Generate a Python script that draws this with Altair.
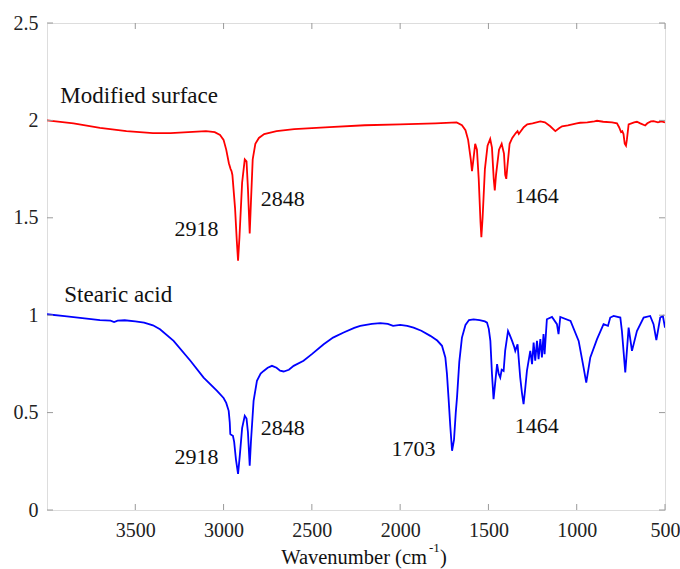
import altair as alt
import pandas as pd

# ---------------- data ----------------
red_wn = [4000, 3850, 3700, 3550, 3400, 3300, 3200, 3100, 3050, 3020, 3000, 2985, 2970, 2960,
          2955, 2950, 2935, 2925, 2918, 2910, 2895, 2880, 2870, 2862, 2852, 2845, 2835, 2820,
          2800, 2770, 2700, 2600, 2400, 2200, 2000, 1800, 1680, 1650, 1630, 1615, 1600, 1593,
          1585, 1575, 1565, 1555, 1545, 1540, 1533, 1520, 1505, 1490, 1480, 1470, 1464, 1457,
          1440, 1425, 1412, 1405, 1399, 1393, 1380, 1365, 1345, 1335, 1328, 1320, 1300, 1280,
          1250, 1206, 1180, 1150, 1121, 1100, 1083, 1050, 1000, 980, 940, 900, 885, 850, 800,
          772, 760, 749, 742, 735, 728, 721, 716, 706, 690, 675, 659, 640, 612, 600, 580, 565,
          540, 520, 500]
red_val = [2.000, 1.985, 1.962, 1.945, 1.935, 1.935, 1.940, 1.945, 1.940, 1.925, 1.900, 1.850,
           1.780, 1.750, 1.740, 1.720, 1.550, 1.380, 1.280, 1.400, 1.680, 1.800, 1.790, 1.650,
           1.420, 1.580, 1.800, 1.880, 1.910, 1.930, 1.945, 1.955, 1.965, 1.975, 1.980, 1.985,
           1.990, 1.975, 1.950, 1.900, 1.800, 1.740, 1.800, 1.880, 1.850, 1.700, 1.480, 1.400,
           1.500, 1.750, 1.870, 1.905, 1.860, 1.700, 1.640, 1.720, 1.850, 1.880, 1.830, 1.720,
           1.700, 1.760, 1.880, 1.910, 1.935, 1.945, 1.930, 1.940, 1.965, 1.980, 1.985, 1.995,
           1.990, 1.970, 1.945, 1.960, 1.970, 1.975, 1.985, 1.988, 1.990, 1.995, 1.998, 1.993,
           1.990, 1.985, 1.965, 1.940, 1.945, 1.930, 1.880, 1.870, 1.900, 1.980, 1.985, 1.990,
           1.993, 1.985, 1.974, 1.985, 1.995, 1.996, 1.990, 1.995, 1.990]

blue_wn = [4000, 3900, 3800, 3700, 3640, 3620, 3600, 3560, 3500, 3450, 3400, 3360, 3283, 3188,
           3113, 3037, 3000, 2985, 2971, 2965, 2962, 2955, 2947, 2940, 2930, 2918, 2908, 2895,
           2880, 2870, 2862, 2852, 2845, 2830, 2811, 2790, 2773, 2750, 2726, 2700, 2680, 2660,
           2630, 2603, 2547, 2500, 2433, 2380, 2320, 2260, 2226, 2160, 2112, 2070, 2040, 2000,
           1960, 1924, 1880, 1829, 1790, 1763, 1744, 1735, 1726, 1716, 1706, 1695, 1685, 1678,
           1665, 1650, 1630, 1610, 1584, 1550, 1520, 1508, 1498, 1489, 1480, 1471, 1462, 1451,
           1442, 1433, 1425, 1414, 1405, 1389, 1380, 1366, 1355, 1348, 1335, 1320, 1310, 1301,
           1292, 1282, 1263, 1253, 1244, 1235, 1225, 1216, 1206, 1197, 1188, 1182, 1169, 1140,
           1112, 1103, 1093, 1035, 989, 961, 946, 923, 885, 848, 823, 810, 791, 753, 744, 725,
           706, 687, 659, 621, 584, 565, 549, 527, 512, 500]
blue_val = [1.005, 0.995, 0.985, 0.975, 0.972, 0.965, 0.972, 0.974, 0.968, 0.962, 0.948, 0.928,
            0.868, 0.766, 0.680, 0.612, 0.575, 0.550, 0.509, 0.450, 0.390, 0.385, 0.381, 0.350,
            0.260, 0.185, 0.280, 0.420, 0.484, 0.470, 0.400, 0.227, 0.350, 0.560, 0.663, 0.700,
            0.714, 0.730, 0.740, 0.730, 0.715, 0.711, 0.720, 0.740, 0.766, 0.800, 0.851, 0.885,
            0.911, 0.935, 0.945, 0.955, 0.959, 0.955, 0.945, 0.950, 0.945, 0.936, 0.920, 0.894,
            0.870, 0.843, 0.783, 0.700, 0.577, 0.430, 0.304, 0.360, 0.500, 0.577, 0.760, 0.885,
            0.950, 0.975, 0.979, 0.975, 0.968, 0.962, 0.930, 0.868, 0.700, 0.569, 0.650, 0.749,
            0.700, 0.680, 0.720, 0.714, 0.820, 0.919, 0.900, 0.868, 0.840, 0.817, 0.851, 0.680,
            0.600, 0.544, 0.620, 0.714, 0.817, 0.749, 0.860, 0.766, 0.868, 0.774, 0.877, 0.783,
            0.903, 0.800, 0.979, 0.991, 0.954, 0.903, 0.991, 0.971, 0.868, 0.731, 0.654, 0.783,
            0.877, 0.954, 0.945, 0.988, 0.996, 0.988, 0.919, 0.706, 0.936, 0.817, 0.919, 0.988,
            0.996, 0.954, 0.872, 0.988, 0.996, 0.936]

series_names = ["Modified surface", "Stearic acid"]
series_colors = ["#ff0000", "#0000ff"]
name_x = [3925, 3902]
name_y = [2.124, 1.104]

peak_text = ["2918", "2848", "1464", "2918", "2848", "1703", "1464"]
peak_x = [3154, 2665, 1226, 3154, 2665, 1924, 1226]
peak_y = [1.443, 1.596, 1.612, 0.273, 0.422, 0.314, 0.433]

x_ticks = [3500, 3000, 2500, 2000, 1500, 1000, 500]
y_ticks = [0, 0.5, 1, 1.5, 2, 2.5]

# ---------------- chart ----------------
W, H = 618, 487
FONT = "Liberation Serif"
GRAY = "#9a9a9a"
TL = 6

xs = alt.Scale(domain=[500, 4000], reverse=True, nice=False, zero=False)
ys = alt.Scale(domain=[0, 2.5], nice=False, zero=False)

xaxis = alt.Axis(values=x_ticks, format="d", ticks=False, tickSize=0, domain=False, grid=False,
                 labelFont=FONT, labelFontSize=20, labelColor="#222", labelPadding=10,
                 labelFlush=False, title=None)
yaxis = alt.Axis(values=y_ticks, format=".1~f", ticks=False, tickSize=0, domain=False,
                 grid=False, labelFont=FONT, labelFontSize=20, labelColor="#222",
                 labelPadding=9, title=None)

spec = pd.DataFrame({
    "wn": red_wn + blue_wn,
    "v": red_val + blue_val,
    "s": [series_names[0]] * len(red_wn) + [series_names[1]] * len(blue_wn),
})

lines = alt.Chart(spec).mark_line(strokeWidth=1.8, clip=True).encode(
    x=alt.X("wn:Q", scale=xs, axis=xaxis),
    y=alt.Y("v:Q", scale=ys, axis=yaxis),
    color=alt.Color("s:N", scale=alt.Scale(domain=series_names, range=series_colors), legend=None),
)

xt = pd.DataFrame({"wn": x_ticks})
yt = pd.DataFrame({"v": y_ticks})
tick_x_bottom = alt.Chart(xt).mark_rule(color=GRAY, strokeWidth=1).encode(
    x=alt.X("wn:Q", scale=xs, axis=xaxis), y=alt.value(H), y2=alt.value(H - TL))
tick_x_top = alt.Chart(xt).mark_rule(color=GRAY, strokeWidth=1).encode(
    x=alt.X("wn:Q", scale=xs, axis=xaxis), y=alt.value(0), y2=alt.value(TL))
tick_y_left = alt.Chart(yt).mark_rule(color=GRAY, strokeWidth=1).encode(
    y=alt.Y("v:Q", scale=ys, axis=yaxis), x=alt.value(0), x2=alt.value(TL))
tick_y_right = alt.Chart(yt).mark_rule(color=GRAY, strokeWidth=1).encode(
    y=alt.Y("v:Q", scale=ys, axis=yaxis), x=alt.value(W), x2=alt.value(W - TL))

peaks = alt.Chart(pd.DataFrame({"wn": peak_x, "v": peak_y, "t": peak_text})).mark_text(
    font=FONT, fontSize=22, color="#111", align="center", baseline="middle"
).encode(x=alt.X("wn:Q", scale=xs, axis=xaxis), y=alt.Y("v:Q", scale=ys, axis=yaxis), text="t:N")

names = alt.Chart(pd.DataFrame({"wn": name_x, "v": name_y, "t": series_names})).mark_text(
    font=FONT, fontSize=23, color="#111", align="left", baseline="middle"
).encode(x=alt.X("wn:Q", scale=xs, axis=xaxis), y=alt.Y("v:Q", scale=ys, axis=yaxis), text="t:N")

# axis title: "Wavenumber (cm" + superscript "-1" + ")"
title_main = alt.Chart(pd.DataFrame({"t": ["Wavenumber (cm"]})).mark_text(
    font=FONT, fontSize=20.5, color="#111", align="right", baseline="alphabetic"
).encode(text="t:N", x=alt.value(380), y=alt.value(541))
title_sup = alt.Chart(pd.DataFrame({"t": ["-1"]})).mark_text(
    font=FONT, fontSize=13, color="#111", align="left", baseline="alphabetic"
).encode(text="t:N", x=alt.value(382), y=alt.value(529))
title_close = alt.Chart(pd.DataFrame({"t": [")"]})).mark_text(
    font=FONT, fontSize=20.5, color="#111", align="left", baseline="alphabetic"
).encode(text="t:N", x=alt.value(393), y=alt.value(541))

chart = alt.layer(
    lines, tick_x_bottom, tick_x_top, tick_y_left, tick_y_right,
    peaks, names, title_main, title_sup, title_close,
).properties(
    width=W, height=H,
    padding={"left": 47, "top": 23, "right": 15, "bottom": 59},
    autosize=alt.AutoSizeParams(type="none"),
).configure_view(stroke=GRAY, strokeWidth=1.2).configure(background="white")

chart.save("out.html", embed_options={"renderer": "svg", "actions": False})
